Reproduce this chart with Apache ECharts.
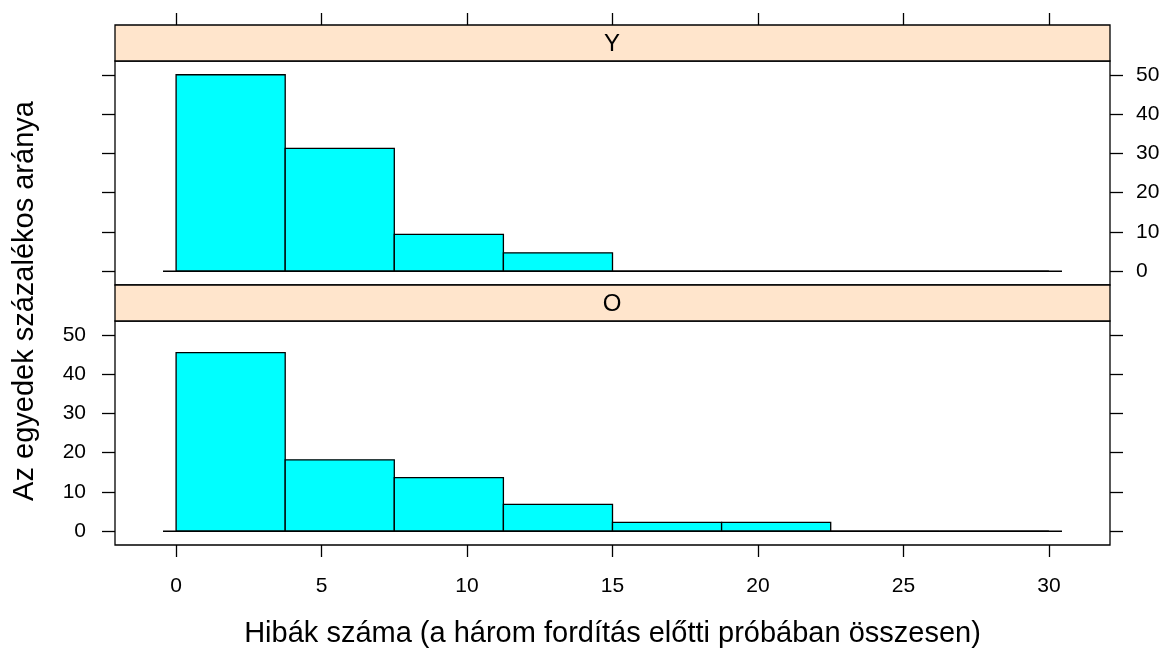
<!DOCTYPE html>
<html style="height: 100%">
<head>
 <meta charset="utf-8">
 <title>Hibák száma</title>
 <script src="https://cdn.jsdelivr.net/npm/echarts@6/dist/echarts.min.js"></script>
</head>
<body style="height: 100%; margin: 0; background: #fff">
 <div id="container" style="width: 1166px; height: 650px"></div>
 <script type="text/javascript">
    // histogram bins (hibák száma), percentages per group
    var breaks = [0, 3.75, 7.5, 11.25, 15, 18.75, 22.5, 26.25, 30];
    var pctY = [50, 31.25, 9.375, 4.69, 0, 0, 0, 0];
    var pctO = [45.45, 18.18, 13.64, 6.82, 2.27, 2.27, 0, 0];
    var panels = ['Y', 'O'];
    var xTicks = [0, 5, 10, 15, 20, 25, 30];
    var yTicks = [0, 10, 20, 30, 40, 50];
    var baseline = [-0.45, 30.45];
    var xLim = [-2.1, 32.1];
    var yLim = [-3.5, 53.5];

    var font = 'Liberation Sans, Arial, sans-serif';
    var dom = document.getElementById('container');
    var myChart = echarts.init(dom, null, {renderer: 'canvas'});

    function binData(vals) {
        var out = [];
        for (var i = 0; i < vals.length; i++) {
            out.push([breaks[i], breaks[i + 1], vals[i]]);
        }
        return out;
    }

    function renderBar(params, api) {
        var p0 = api.coord([api.value(0), api.value(2)]);
        var p1 = api.coord([api.value(1), 0]);
        return {
            type: 'rect',
            shape: {x: p0[0], y: p0[1], width: p1[0] - p0[0], height: p1[1] - p0[1]},
            style: {fill: '#00ffff', stroke: '#000', lineWidth: 1.3}
        };
    }

    function xAx(grid, isBottom) {
        return {
            type: 'value', gridIndex: grid, min: xLim[0], max: xLim[1],
            position: isBottom ? 'bottom' : 'top',
            offset: isBottom ? 0 : 36,
            axisLine: {show: false, onZero: false},
            splitLine: {show: false},
            axisTick: {show: true, length: 12, customValues: xTicks, lineStyle: {color: '#000', width: 1.3}},
            axisLabel: {show: isBottom, customValues: xTicks, margin: 31, color: '#000', fontSize: 21, fontFamily: font},
            name: isBottom ? 'Hibák száma (a három fordítás előtti próbában összesen)' : '',
            nameLocation: 'middle', nameGap: 74,
            nameTextStyle: {color: '#000', fontSize: 29, fontFamily: font}
        };
    }

    function yAx(grid, pos, labels) {
        return {
            type: 'value', gridIndex: grid, min: yLim[0], max: yLim[1], position: pos,
            axisLine: {show: false, onZero: false},
            splitLine: {show: false},
            axisTick: {show: true, length: 13, customValues: yTicks, lineStyle: {color: '#000', width: 1.3}},
            axisLabel: {show: labels, customValues: yTicks, margin: pos === 'left' ? 29 : 26,
                        color: '#000', fontSize: 21, fontFamily: font}
        };
    }

    var stripStyle = {show: true, backgroundColor: '#ffe5cc', borderColor: '#000', borderWidth: 1.3};
    var panelStyle = {show: true, backgroundColor: '#fff', borderColor: '#000', borderWidth: 1.3};

    myChart.setOption({
        animation: false,
        backgroundColor: '#fff',
        grid: [
            Object.assign({left: 115, top: 61, width: 995, height: 224, outerBoundsMode: 'none'}, panelStyle),
            Object.assign({left: 115, top: 321, width: 995, height: 224, outerBoundsMode: 'none'}, panelStyle),
            Object.assign({left: 115, top: 25, width: 995, height: 36, outerBoundsMode: 'none'}, stripStyle),
            Object.assign({left: 115, top: 285, width: 995, height: 36, outerBoundsMode: 'none'}, stripStyle)
        ],
        xAxis: [
            xAx(0, false),
            xAx(1, true),
            {type: 'value', gridIndex: 2, show: false},
            {type: 'value', gridIndex: 3, show: false}
        ],
        yAxis: [
            yAx(0, 'left', false),
            yAx(0, 'right', true),
            yAx(1, 'left', true),
            yAx(1, 'right', false),
            {type: 'value', gridIndex: 2, show: false},
            {type: 'value', gridIndex: 3, show: false}
        ],
        graphic: [
            {type: 'text', x: 612, y: 44, z: 100,
             style: {text: panels[0], align: 'center', verticalAlign: 'middle', fill: '#000', font: '24px ' + font}},
            {type: 'text', x: 612, y: 304, z: 100,
             style: {text: panels[1], align: 'center', verticalAlign: 'middle', fill: '#000', font: '24px ' + font}},
            {type: 'text', x: 25, y: 301, rotation: Math.PI / 2, z: 100,
             style: {text: 'Az egyedek százalékos aránya', align: 'center', verticalAlign: 'middle', fill: '#000', font: '29px ' + font}}
        ],
        series: [
            {type: 'line', xAxisIndex: 0, yAxisIndex: 0, symbol: 'none', silent: true,
             lineStyle: {color: '#000', width: 1.3}, data: [[baseline[0], 0], [baseline[1], 0]]},
            {type: 'custom', name: panels[0], xAxisIndex: 0, yAxisIndex: 0, renderItem: renderBar,
             data: binData(pctY), encode: {x: [0, 1], y: 2}},
            {type: 'line', xAxisIndex: 1, yAxisIndex: 2, symbol: 'none', silent: true,
             lineStyle: {color: '#000', width: 1.3}, data: [[baseline[0], 0], [baseline[1], 0]]},
            {type: 'custom', name: panels[1], xAxisIndex: 1, yAxisIndex: 2, renderItem: renderBar,
             data: binData(pctO), encode: {x: [0, 1], y: 2}}
        ]
    });
</script>
</body>
</html>
